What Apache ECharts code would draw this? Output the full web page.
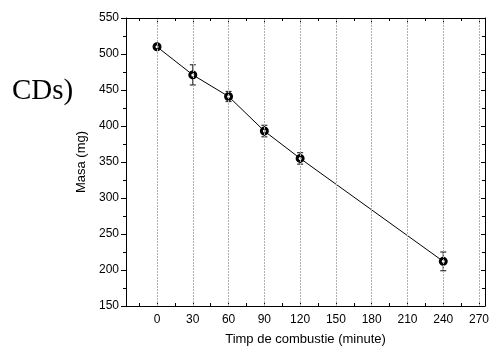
<!DOCTYPE html>
<html><head><meta charset="utf-8">
<script src="https://cdn.jsdelivr.net/npm/echarts@6/dist/echarts.min.js"></script>
<style>html,body{margin:0;padding:0;background:#fff}#c{width:490px;height:351px}</style>
</head><body><div id="c"></div>
<script>
var times = [0, 30, 60, 90, 120, 240];
var mass = [510, 471, 441, 393, 355, 212];
var errs = [3, 14, 7, 8, 8, 13];
var xMajor = [0, 30, 60, 90, 120, 150, 180, 210, 240, 270];
var xMinor = [-15, 15, 45, 75, 105, 135, 165, 195, 225, 255];
var xTitle = 'Timp de combustie (minute)';
var yTitle = 'Masa (mg)';
var sideText = 'CDs)';

var font = 'Liberation Sans, Arial, sans-serif';
var chart = echarts.init(document.getElementById('c'));
function xa(pos, vals, len, inside, showLine, labels) {
  return {
    type: 'value', position: pos, min: -26, max: 275, gridIndex: 0,
    axisLine: {show: showLine, onZero: false, lineStyle: {color: '#000', width: 1}},
    axisTick: {show: true, inside: inside, length: len, customValues: vals, lineStyle: {color: '#000'}},
    axisLabel: labels ? {show: true, customValues: xMajor, color: '#000', fontSize: 12, fontFamily: font, margin: 8} : {show: false},
    splitLine: {show: false},
    name: labels ? xTitle : '', nameLocation: 'middle', nameGap: 27,
    nameTextStyle: {color: '#000', fontSize: 13, fontFamily: font}
  };
}
var pts = times.map(function (t, i) { return [t, mass[i]]; });
var ebData = times.map(function (t, i) { return [t, mass[i] - errs[i], mass[i] + errs[i]]; });
chart.setOption({
  animation: false,
  grid: {left: 126, right: 5, top: 18, bottom: 45, outerBoundsMode: 'none', containLabel: false},
  graphic: [{type: 'text', left: 12, top: 77, style: {text: sideText, font: '29px "Liberation Serif", "Times New Roman", serif', fill: '#000'}}],
  xAxis: [
    xa('bottom', xMajor, 4, true, true, true),
    xa('top', xMajor, 4, true, true, false),
    xa('bottom', xMinor, 3, true, false, false),
    xa('top', xMinor, 3, true, false, false)
  ],
  yAxis: [
    {type: 'value', position: 'left', min: 150, max: 550, interval: 50,
     axisLine: {show: true, onZero: false, lineStyle: {color: '#000'}},
     axisTick: {show: true, inside: false, length: 5, lineStyle: {color: '#000'}},
     minorTick: {show: true, splitNumber: 2, length: 3, lineStyle: {color: '#000'}},
     axisLabel: {color: '#000', fontSize: 12, fontFamily: font, margin: 7},
     splitLine: {show: false},
     name: yTitle, nameLocation: 'middle', nameGap: 28,
     nameTextStyle: {color: '#000', fontSize: 13, fontFamily: font}},
    {type: 'value', position: 'right', min: 150, max: 550, interval: 50,
     axisLine: {show: true, onZero: false, lineStyle: {color: '#000'}},
     axisTick: {show: true, inside: true, length: 4, lineStyle: {color: '#000'}},
     minorTick: {show: true, splitNumber: 2, length: 3, lineStyle: {color: '#000'}},
     axisLabel: {show: false}, splitLine: {show: false}}
  ],
  series: [
    {type: 'line', xAxisIndex: 0, yAxisIndex: 0, data: xMajor.map(function (v) { return [v, 150]; }),
     lineStyle: {opacity: 0}, symbol: 'none', silent: true,
     markLine: {silent: true, symbol: 'none', label: {show: false},
       lineStyle: {type: [2, 1], color: '#b0b0b0', width: 1},
       data: xMajor.map(function (v) { return {xAxis: v}; })}},
    {type: 'custom', xAxisIndex: 0, yAxisIndex: 0, data: ebData, z: 3,
     renderItem: function (params, api) {
       var lo = api.coord([api.value(0), api.value(1)]);
       var hi = api.coord([api.value(0), api.value(2)]);
       var w = 3;
       var st = {stroke: '#333', lineWidth: 1.2};
       return {type: 'group', children: [
         {type: 'line', shape: {x1: lo[0], y1: lo[1], x2: hi[0], y2: hi[1]}, style: st},
         {type: 'line', shape: {x1: lo[0] - w, y1: lo[1], x2: lo[0] + w, y2: lo[1]}, style: st},
         {type: 'line', shape: {x1: hi[0] - w, y1: hi[1], x2: hi[0] + w, y2: hi[1]}, style: st}
       ]};
     }},
    {type: 'line', xAxisIndex: 0, yAxisIndex: 0, data: pts, z: 4,
     lineStyle: {color: '#000', width: 1},
     symbol: 'circle', symbolSize: 6,
     itemStyle: {color: '#fff', borderColor: '#000', borderWidth: 3}}
  ]
});
</script></body></html>
